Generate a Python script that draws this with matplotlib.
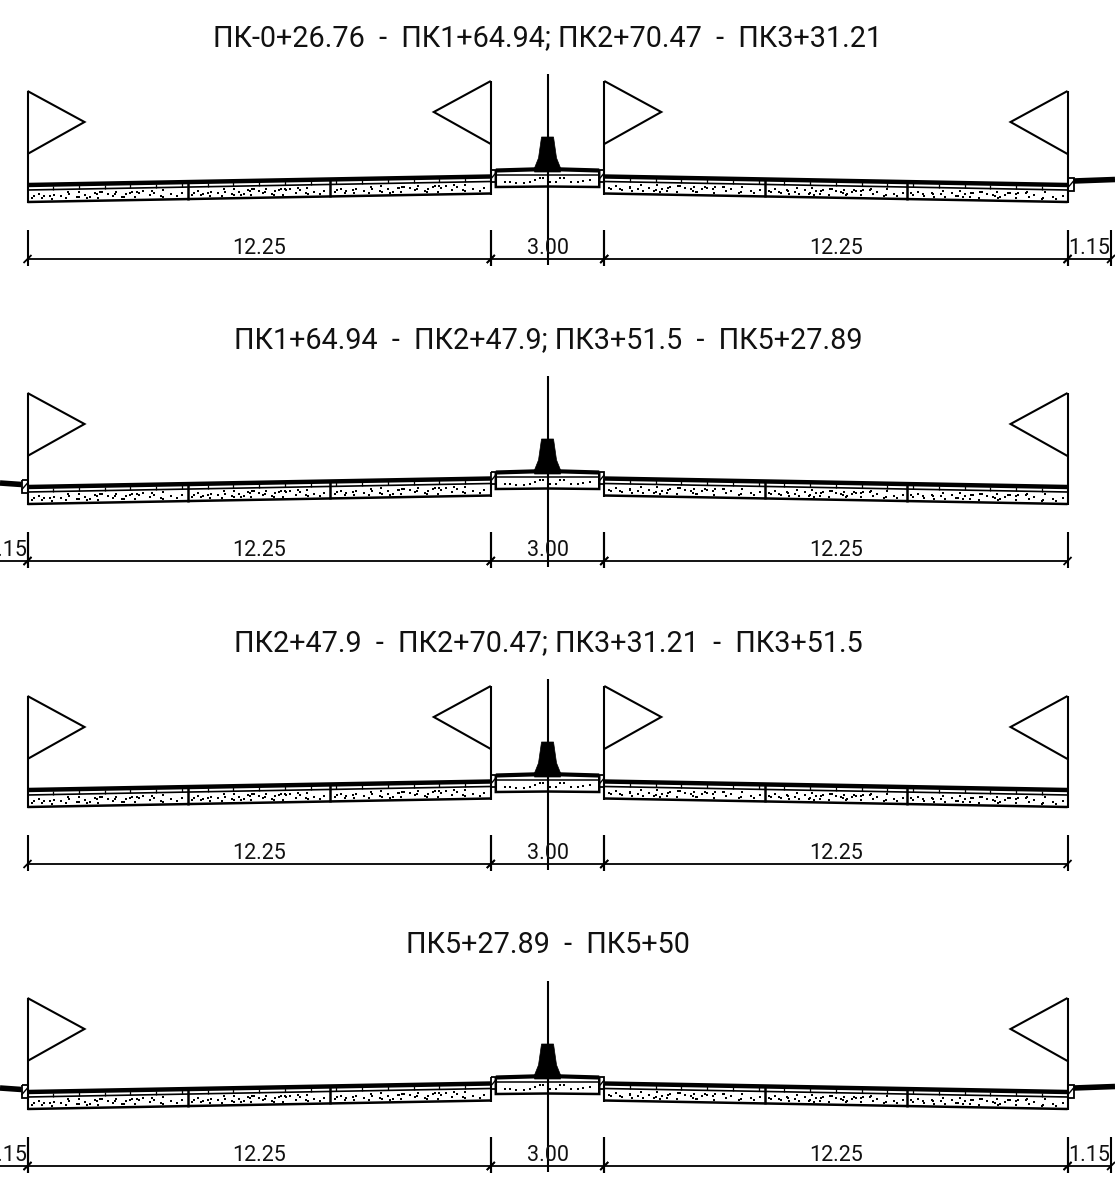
import matplotlib
matplotlib.use('agg')
import matplotlib.pyplot as plt
from matplotlib.patches import Polygon

# section data
titles = ["ПК-0+26.76  -  ПК1+64.94; ПК2+70.47  -  ПК3+31.21",
          "ПК1+64.94  -  ПК2+47.9; ПК3+51.5  -  ПК5+27.89",
          "ПК2+47.9  -  ПК2+70.47; ПК3+31.21  -  ПК3+51.5",
          "ПК5+27.89  -  ПК5+50"]
row_shift = [0, 302, 605, 907]
inner_signs = [True, False, True, False]
left_stub = [False, True, False, True]
right_stub = [True, False, False, True]

# widths, metres
road_width = 12.25
median_width = 3.00
side_width = 1.15
panel_widths = [4.25, 3.75, 4.25]
dim_labels = ["12.25", "3.00", "12.25"]
side_label = "1.15"

# irregular gravel specks in a panel: fraction along, fraction of depth
speck_u = [.03, .07, .09, .14, .15, .21, .24, .26, .31, .32, .36, .39, .42, .44, .45, .5, .53, .55, .59,
           .61, .64, .67, .68, .72, .76, .79, .83, .84, .89, .93, .96]
speck_v = [.7, .3, .8, .5, .9, .6, .9, .4, .7, .1, .5, .8, .3, .9, .2, .4, .7, .2, .8,
           .5, .3, .9, .2, .2, .7, .4, .8, .1, .6, .9, .5]

PX = 37.82  # px per metre
X0 = 27.5
LW = 1.5
FONT = 'Roboto'

fig = plt.figure(figsize=(11.15, 11.82), dpi=100)
ax = fig.add_axes([0, 0, 1, 1])
ax.set_xlim(0, 1115)
ax.set_ylim(1182, 0)
ax.axis('off')


def line(xs, ys, lw=LW):
    ax.plot(xs, ys, color='black', lw=lw, solid_capstyle='butt', solid_joinstyle='miter')


def sign(x, direction, top):
    xs = [x, x + direction * 57, x]
    ys = [top, top + 31, top + 63]
    line(xs, ys)


def carriageway(x_a, x_b, y_a, y_b, dy, reverse):
    # x_a is the outer end, x_b the median end
    def top(x):
        return y_a + (y_b - y_a) * (x - x_a) / (x_b - x_a)
    line([x_a, x_b], [y_a + dy, y_b + dy], lw=3.2)
    line([x_a, x_b], [y_a + dy + 5, y_b + dy + 5], lw=1.2)
    line([x_a, x_b], [y_a + dy + 17, y_b + dy + 17], lw=1.8)
    line([x_a, x_a], [y_a + dy, y_a + dy + 18])
    line([x_b, x_b], [y_b + dy, y_b + dy + 18])
    # small ticks between the layers
    n = int(abs(x_b - x_a) / 24.5)
    for i in range(1, n):
        x = x_a + (x_b - x_a) * i / n
        line([x, x], [top(x) + dy + 1, top(x) + dy + 5], lw=0.9)
    # panels
    edge = 0.0
    sx, sy = [], []
    for w in panel_widths:
        p0 = x_a + (x_b - x_a) * edge / road_width
        p1 = x_a + (x_b - x_a) * (edge + w) / road_width
        if edge + w < road_width:
            line([p1, p1], [top(p1) + dy, top(p1) + dy + 18], lw=1.8)
        us = speck_u[::-1] if reverse else speck_u
        for u, v in zip(us, speck_v):
            x = p0 + (p1 - p0) * u
            sx.append(x)
            sy.append(top(x) + dy + 7 + 8 * v)
        for u, v in zip(us[::2], speck_v[3::2]):
            x = p0 + (p1 - p0) * (u + .012)
            sx.append(x)
            sy.append(top(x) + dy + 7 + 8 * v)
        edge += w
    ax.scatter(sx, sy, s=4.5, c='black', marker='s', linewidths=0)


def joint(x0, x1, y0, y1):
    line([x0, x1, x1, x0, x0], [y0, y0, y1, y1, y0], lw=1.3)
    line([x0, x1], [y1 - 3, y0 + 3], lw=1.0)


def dim(x_a, x_b, y, label):
    line([x_a, x_b], [y, y], lw=1.3)
    for x in (x_a, x_b):
        line([x, x], [y - 29, y + 7])
        line([x - 4, x + 4], [y + 4, y - 4], lw=1.3)
    ax.text((x_a + x_b) / 2, y - 5, label, ha='center', va='baseline', fontsize=15.5,
            family=FONT, color='#111111')


edges = [X0, X0 + road_width * PX, X0 + (road_width + median_width) * PX,
         X0 + (2 * road_width + median_width) * PX]
cx = (edges[1] + edges[2]) / 2

for i, d in enumerate(row_shift):
    ax.text(548, 46 + d, titles[i], ha='center', va='baseline', fontsize=20.7,
            family=FONT, color='#111111')

    # signs and posts
    sign(edges[0], 1, 91 + d)
    sign(edges[3], -1, 91 + d)
    line([edges[0], edges[0]], [91 + d, 185 + d])
    line([edges[3], edges[3]], [91 + d, 185 + d])
    if inner_signs[i]:
        sign(edges[1], -1, 81 + d)
        sign(edges[2], 1, 81 + d)
        line([edges[1], edges[1]], [81 + d, 177 + d])
        line([edges[2], edges[2]], [81 + d, 177 + d])

    carriageway(edges[0], edges[1], 185, 176.5, d, False)
    carriageway(edges[3], edges[2], 185, 176.5, d, True)

    # median slab
    mx0, mx1 = edges[1] + 5, edges[2] - 5
    line([mx0, cx, mx1], [170.5 + d, 169 + d, 170.5 + d], lw=3.0)
    line([mx0, mx1], [174.5 + d, 174.5 + d], lw=1.1)
    line([mx0, mx0, cx, mx1, mx1], [170 + d, 187 + d, 186.5 + d, 187 + d, 170 + d], lw=1.8)
    sx, sy = [], []
    for u, v in zip(speck_u[::2], speck_v[::2]):
        sx.append(mx0 + 6 + (mx1 - mx0 - 12) * u)
        sy.append(d + 176 + 8 * v)
    ax.scatter(sx, sy, s=4, c='black', marker='s', linewidths=0)
    joint(edges[1], mx0, 170 + d, 182 + d)
    joint(mx1, edges[2], 170 + d, 182 + d)

    # barrier
    ax.add_patch(Polygon([(cx - 6, 137 + d), (cx + 6, 137 + d), (cx + 9, 158 + d), (cx + 13, 168 + d),
                          (cx + 13, 172 + d), (cx - 13, 172 + d), (cx - 13, 168 + d), (cx - 9, 158 + d)],
                         closed=True, fc='black', ec='black', lw=0.5))
    line([cx, cx], [74 + d, 265 + d])

    # outer kerbs
    if right_stub[i]:
        joint(edges[3], edges[3] + 6, 178 + d, 191 + d)
        line([edges[3] + 6, 1115], [181 + d, 179.5 + d], lw=4.0)
    if left_stub[i]:
        joint(edges[0] - 6, edges[0], 178 + d, 191 + d)
        line([edges[0] - 6, 0], [182.5 + d, 181 + d], lw=4.0)

    # dimensions
    y = 259 + d
    dim(edges[0], edges[1], y, dim_labels[0])
    dim(edges[1], edges[2], y, dim_labels[1])
    dim(edges[2], edges[3], y, dim_labels[2])
    if right_stub[i]:
        dim(edges[3], edges[3] + side_width * PX, y, side_label)
    if left_stub[i]:
        dim(edges[0] - side_width * PX, edges[0], y, side_label)

fig.savefig('out.png', dpi=100)
